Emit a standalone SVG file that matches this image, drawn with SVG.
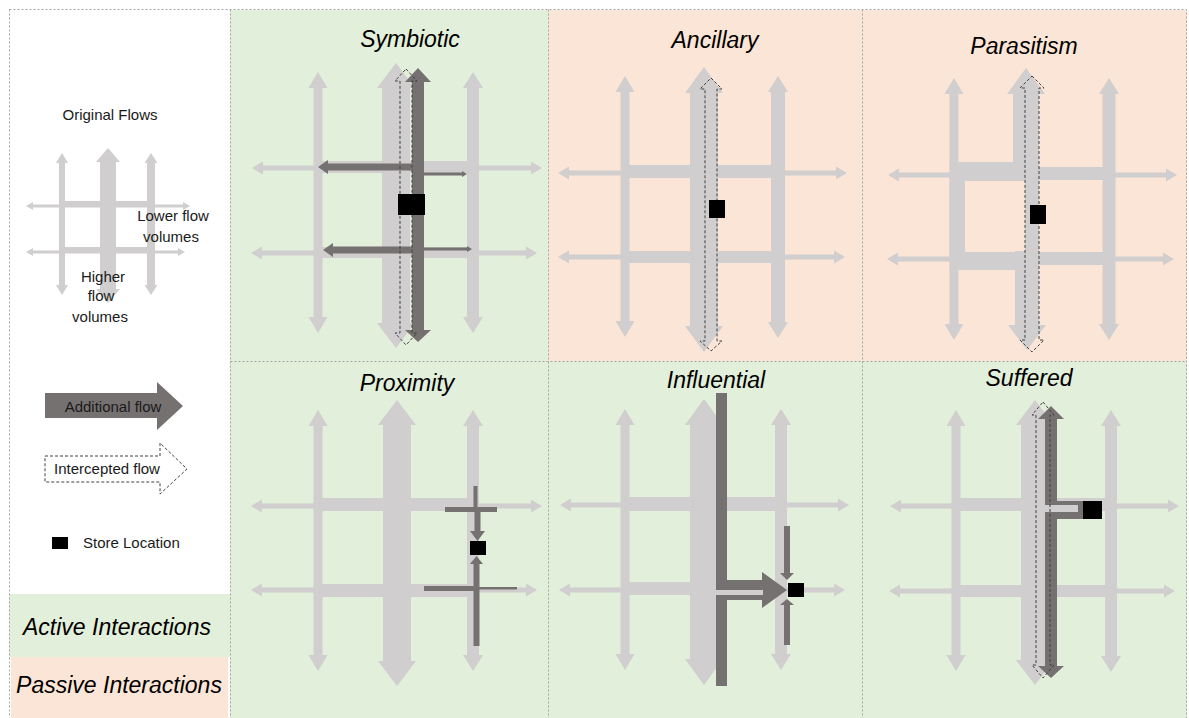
<svg xmlns="http://www.w3.org/2000/svg" width="1189" height="718" viewBox="0 0 1189 718">
<style>
.g{fill:#D0CECE}
.d{fill:#767171}
.s{fill:#000}
.ds{fill:none;stroke:#404040;stroke-width:1;stroke-dasharray:3 2}
.grid{fill:none;stroke:#A6A6A6;stroke-width:1;stroke-dasharray:2 2}
.green{fill:#E2EFDA}
.peach{fill:#FBE5D6}
.t{font-family:"Liberation Sans",Arial,sans-serif;font-size:15px;fill:#1a1a1a}
.ti{font-family:"Liberation Sans",Arial,sans-serif;font-size:23px;font-style:italic;fill:#000;text-anchor:middle}
</style>
<rect x="0" y="0" width="1189" height="718" fill="#fff"/>
<g id="backgrounds">
<rect class="green" x="230" y="10" width="318" height="351"/>
<rect class="peach" x="548" y="10" width="314" height="351"/>
<rect class="peach" x="862" y="10" width="325" height="351"/>
<rect class="green" x="230" y="361" width="318" height="357"/>
<rect class="green" x="548" y="361" width="314" height="357"/>
<rect class="green" x="862" y="361" width="325" height="357"/>
<rect class="green" x="9" y="594" width="221" height="63"/>
<rect class="peach" x="11" y="657" width="217" height="61"/>
</g>
<g id="grid-lines">
<rect class="grid" x="9.5" y="9.5" width="1177" height="712"/>
<line class="grid" x1="230.5" y1="9.5" x2="230.5" y2="718"/>
<line class="grid" x1="548.5" y1="9.5" x2="548.5" y2="718"/>
<line class="grid" x1="862.5" y1="9.5" x2="862.5" y2="718"/>
<line class="grid" x1="230.5" y1="361.5" x2="1186.5" y2="361.5"/>
</g>

<g id="legend-original-flows">
<text class="t" x="110" y="120" text-anchor="middle">Original Flows</text>
<polygon class="g" points="26,206 33,202 33,204.5 183,204.5 183,202 190,206 183,210 183,207.5 33,207.5 33,210"/>
<polygon class="g" points="26,252 33,248 33,250.5 178,250.5 178,248 185,252 178,256 178,253.5 33,253.5 33,256"/>
<rect class="g" x="62" y="201" width="89" height="6"/>
<rect class="g" x="62" y="247" width="89" height="6"/>
<polygon class="g" points="62,153 68,163 65,163 65,285 68,285 62,295 56,285 59,285 59,163 56,163"/>
<polygon class="g" points="108,148 120,162 116,162 116,289 120,289 108,303 96,289 100,289 100,162 96,162"/>
<polygon class="g" points="151,153 157.5,163 155,163 155,285 157.5,285 151,295 144.5,285 147,285 147,163 144.5,163"/>
<text class="t" x="173" y="221" text-anchor="middle">Lower flow</text>
<text class="t" x="171" y="242" text-anchor="middle">volumes</text>
<text class="t" x="103" y="282" text-anchor="middle">Higher</text>
<text class="t" x="101" y="301" text-anchor="middle">flow</text>
<text class="t" x="100" y="322" text-anchor="middle">volumes</text>
</g>
<g id="legend-additional">
<polygon class="d" points="45,393 157,393 157,382 183,406 157,430 157,418 45,418"/>
<text class="t" x="113" y="412" text-anchor="middle">Additional flow</text>
</g>
<g id="legend-intercepted">
<polygon class="ds" style="fill:#fff" points="45,456 160,456 160,443 187,469 160,494 160,482 45,482"/>
<text class="t" x="107" y="474" text-anchor="middle">Intercepted flow</text>
</g>
<g id="legend-store">
<rect class="s" x="52" y="537" width="16" height="12"/>
<text class="t" x="83" y="548">Store Location</text>
</g>
<g id="legend-active">
<text class="ti" x="117" y="635">Active Interactions</text>
</g>
<g id="legend-passive">
<text class="ti" x="119" y="693">Passive Interactions</text>
</g>

<g id="panel-symbiotic">
<text class="ti" x="410" y="47">Symbiotic</text>
<polygon class="g" points="252,168 263,161.5 263,165.5 531,165.5 531,161.5 542,168 531,174.5 531,170.5 263,170.5 263,174.5"/>
<polygon class="g" points="251,253 262,246.5 262,250.5 526,250.5 526,246.5 537,253 526,259.5 526,255.5 262,255.5 262,259.5"/>
<rect class="g" x="318" y="161" width="155" height="12"/>
<rect class="g" x="318" y="247" width="155" height="11"/>
<polygon class="g" points="318,72 327.5,88 322.5,88 322.5,317 327.5,317 318,333 308.5,317 313.5,317 313.5,88 308.5,88"/>
<polygon class="g" points="473,72 483,88 479,88 479,317 483,317 473,333 463,317 467,317 467,88 463,88"/>
<polygon class="g" points="396,63 415,88 410,88 410,323 415,323 396,348 377,323 382,323 382,88 377,88"/>
<polygon class="d" points="418,68 431,82 424,82 424,330 431,330 418,342 405,330 412,330 412,82 405,82"/>
<polygon class="d" points="318,167 328,160 328,163.5 412,163.5 412,170.5 328,170.5 328,174"/>
<polygon class="d" points="323,250 333,243 333,246.5 412,246.5 412,253.5 333,253.5 333,257"/>
<polygon class="d" points="424,172.5 462,172.5 462,171 467,174 462,177 462,175.5 424,175.5"/>
<polygon class="d" points="424,247.5 467,247.5 467,246 472,249 467,252 467,250.5 424,250.5"/>
<polygon class="ds" points="406,69 417,81 412,81 412,333 417,333 406,345 395,333 400,333 400,81 395,81"/>
<rect class="s" x="398" y="194" width="27" height="21"/>
</g>

<g id="panel-ancillary">
<text class="ti" x="715" y="48">Ancillary</text>
<polygon class="g" points="558,173 569,166.5 569,170.5 836,170.5 836,166.5 847,173 836,179.5 836,175.5 569,175.5 569,179.5"/>
<polygon class="g" points="558,257 569,250.5 569,254.5 834,254.5 834,250.5 845,257 834,263.5 834,259.5 569,259.5 569,263.5"/>
<rect class="g" x="625" y="165" width="153" height="13"/>
<rect class="g" x="625" y="251" width="153" height="12"/>
<polygon class="g" points="625,76 634.5,92 629.5,92 629.5,321 634.5,321 625,337 615.5,321 620.5,321 620.5,92 615.5,92"/>
<polygon class="g" points="778,76 788,92 785,92 785,322 788,322 778,338 768,322 771,322 771,92 768,92"/>
<polygon class="g" points="704,67 723,93 718,93 718,326 723,326 704,352 685,326 690,326 690,93 685,93"/>
<polygon class="ds" points="711,78 722,89 717,89 717,341 722,341 711,351 700,341 705,341 705,89 700,89"/>
<rect class="s" x="709" y="200" width="16" height="18"/>
</g>

<g id="panel-parasitism">
<text class="ti" x="1024" y="54">Parasitism</text>
<polygon class="g" points="888,175 899,168.5 899,172.5 1166,172.5 1166,168.5 1177,175 1166,181.5 1166,177.5 899,177.5 899,181.5"/>
<polygon class="g" points="887,259 898,252.5 898,256.5 1163,256.5 1163,252.5 1174,259 1163,265.5 1163,261.5 898,261.5 898,265.5"/>
<rect class="g" x="954" y="162" width="59" height="19"/>
<rect class="g" x="1039" y="167" width="70" height="13"/>
<rect class="g" x="954" y="252" width="61" height="18"/>
<rect class="g" x="1039" y="252" width="70" height="13"/>
<polygon class="g" points="954,78 963.5,94 958.5,94 958.5,324 963.5,324 954,340 944.5,324 949.5,324 949.5,94 944.5,94"/>
<rect class="g" x="949.5" y="162" width="15.5" height="108"/>
<polygon class="g" points="1109,78 1119,94 1115.5,94 1115.5,324 1119,324 1109,340 1099,324 1102.5,324 1102.5,94 1099,94"/>
<polygon class="g" points="1026,68 1045,94 1039,94 1039,181 1013,181 1013,94 1007,94"/>
<polygon class="g" points="1015,251 1039,251 1039,325 1046,325 1027,350 1008,325 1015,325"/>
<rect class="g" x="1025" y="180" width="14" height="72"/>
<polygon class="ds" points="1032,76 1044,88 1039,88 1039,340 1044,340 1032,352 1020,340 1025,340 1025,88 1020,88"/>
<rect class="s" x="1030" y="205" width="16" height="19"/>
</g>

<g id="panel-proximity">
<text class="ti" x="407" y="391">Proximity</text>
<polygon class="g" points="251,506 262,499.5 262,503.5 531,503.5 531,499.5 542,506 531,512.5 531,508.5 262,508.5 262,512.5"/>
<polygon class="g" points="251,590 262,583.5 262,587.5 526,587.5 526,583.5 537,590 526,596.5 526,592.5 262,592.5 262,596.5"/>
<rect class="g" x="318" y="498" width="155" height="13"/>
<rect class="g" x="318" y="584" width="155" height="13"/>
<polygon class="g" points="318,410 327.5,426 322.5,426 322.5,655 327.5,655 318,671 308.5,655 313.5,655 313.5,426 308.5,426"/>
<polygon class="g" points="473,410 483,426 479,426 479,655 483,655 473,671 463,655 467,655 467,426 463,426"/>
<polygon class="g" points="397,400 416,425 411,425 411,661 416,661 397,686 378,661 383,661 383,425 378,425"/>
<rect class="d" x="445" y="507" width="52" height="5"/>
<rect class="d" x="473.5" y="486" width="4" height="26"/>
<polygon class="d" points="474.5,510 480.5,510 480.5,531 485,531 477.5,541 470,531 474.5,531"/>
<polygon class="d" points="476.5,556 483,564 479.5,564 479.5,646 473.5,646 473.5,564 470,564"/>
<rect class="d" x="424" y="586" width="52" height="5"/>
<rect class="d" x="476" y="587" width="41" height="2.5"/>
<rect class="s" x="470" y="541" width="16" height="14"/>
</g>

<g id="panel-influential">
<text class="ti" x="716" y="388">Influential</text>
<polygon class="g" points="560,505 571,498.5 571,502.5 838,502.5 838,498.5 849,505 838,511.5 838,507.5 571,507.5 571,511.5"/>
<polygon class="g" points="559,590 570,583.5 570,587.5 834,587.5 834,583.5 845,590 834,596.5 834,592.5 570,592.5 570,596.5"/>
<rect class="g" x="625" y="497" width="156" height="14"/>
<rect class="g" x="625" y="582" width="156" height="13"/>
<polygon class="g" points="625,409 634.5,425 629.5,425 629.5,654 634.5,654 625,670 615.5,654 620.5,654 620.5,425 615.5,425"/>
<polygon class="g" points="781,409 791,425 787,425 787,654 791,654 781,670 771,654 775,654 775,425 771,425"/>
<polygon class="g" points="704,399 723,425 718,425 718,659 723,659 704,685 685,659 690,659 690,425 685,425"/>
<rect class="d" x="716" y="393" width="11" height="293"/>
<polygon class="d" points="716,580 762,580 762,572 787,590 762,608 762,600 716,600"/>
<rect class="g" x="716" y="590" width="47" height="5"/>
<polygon class="d" points="784,526 790,526 790,573 794,573 787,580 780,573 784,573"/>
<polygon class="d" points="787,599 794,605 790,605 790,645 784,645 784,605 780,605"/>
<rect class="s" x="788" y="583" width="16" height="14"/>
</g>

<g id="panel-suffered">
<text class="ti" x="1029" y="386">Suffered</text>
<polygon class="g" points="890,506 901,499.5 901,503.5 1168,503.5 1168,499.5 1179,506 1168,512.5 1168,508.5 901,508.5 901,512.5"/>
<polygon class="g" points="889,591 900,584.5 900,588.5 1164,588.5 1164,584.5 1175,591 1164,597.5 1164,593.5 900,593.5 900,597.5"/>
<rect class="g" x="956" y="498" width="155" height="13"/>
<rect class="g" x="956" y="585" width="155" height="12"/>
<polygon class="g" points="956,410 965.5,426 960.5,426 960.5,655 965.5,655 956,671 946.5,655 951.5,655 951.5,426 946.5,426"/>
<polygon class="g" points="1111,410 1121,426 1117,426 1117,656 1121,656 1111,672 1101,656 1105,656 1105,426 1101,426"/>
<polygon class="g" points="1035,400 1054,425 1049,425 1049,660 1054,660 1035,685 1016,660 1021,660 1021,425 1016,425"/>
<polygon class="d" points="1051,406 1064,419 1057,419 1057,501 1083,501 1083,519 1057,519 1057,666 1064,666 1051,678 1038,666 1045,666 1045,419 1038,419"/>
<rect class="g" x="1043" y="505" width="35" height="7"/>
<polygon class="ds" points="1043,402 1054,415 1050,415 1050,665 1054,665 1043,678 1032,665 1036,665 1036,415 1032,415"/>
<rect class="s" x="1083" y="501" width="19" height="18"/>
</g>
</svg>
